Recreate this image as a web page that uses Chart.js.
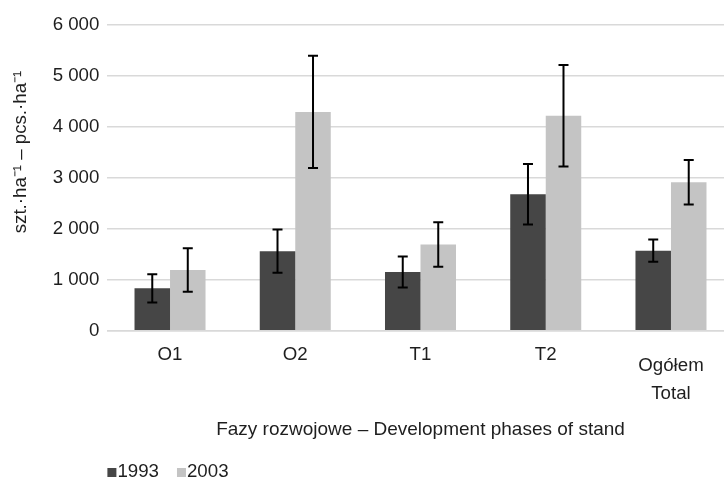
<!DOCTYPE html>
<html>
<head>
<meta charset="utf-8">
<script src="https://cdn.jsdelivr.net/npm/chart.js@4.4.1/dist/chart.umd.min.js"></script>
<style>
  html, body { margin: 0; padding: 0; background: #fff; }
  #wrap { width: 724px; height: 480px; overflow: hidden; position: relative; }
  canvas { display: block; }
</style>
</head>
<body>
<div id="wrap"><canvas id="chart" width="744" height="480"></canvas></div>
<script>
// Data
const categories = ['O1', 'O2', 'T1', 'T2', ['Ogółem', 'Total']];
const years = ['1993', '2003'];
const values1993 = [830, 1560, 1150, 2675, 1570];
const values2003 = [1190, 4290, 1690, 4215, 2910];
const err1993 = [275, 425, 305, 595, 220];
const err2003 = [425, 1100, 435, 995, 435];
const yTicks = [0, 1000, 2000, 3000, 4000, 5000, 6000];

const colors = ['#464646', '#c4c4c4'];
const textColor = '#1e1e1e';
const fontFamily = "'Liberation Sans', Arial, sans-serif";
const fontSize = 18.7;
const yTitle = 'szt.·ha⁻¹ – pcs.·ha⁻¹';
const xTitle = 'Fazy rozwojowe – Development phases of stand';

function fmt(v) {
  return String(v).replace(/\B(?=(\d{3})+(?!\d))/g, ' ');
}

// error bars drawn from the y scale
const errorBars = {
  id: 'errorBars',
  afterDatasetsDraw(chart) {
    const ctx = chart.ctx;
    const y = chart.scales.y;
    const errs = [err1993, err2003];
    ctx.save();
    ctx.strokeStyle = '#000';
    ctx.lineWidth = 2;
    chart.data.datasets.forEach((ds, d) => {
      chart.getDatasetMeta(d).data.forEach((bar, i) => {
        const v = ds.data[i];
        const e = errs[d][i];
        const top = y.getPixelForValue(v + e);
        const bot = y.getPixelForValue(v - e);
        ctx.beginPath();
        ctx.moveTo(bar.x, top);
        ctx.lineTo(bar.x, bot);
        ctx.moveTo(bar.x - 5, top);
        ctx.lineTo(bar.x + 5, top);
        ctx.moveTo(bar.x - 5, bot);
        ctx.lineTo(bar.x + 5, bot);
        ctx.stroke();
      });
    });
    ctx.restore();
  }
};

// y title (sits above the axis centre) and legend under the x title
const extras = {
  id: 'extras',
  afterDraw(chart) {
    const ctx = chart.ctx;
    const area = chart.chartArea;
    ctx.save();
    ctx.fillStyle = textColor;
    ctx.font = fontSize + 'px ' + fontFamily;
    ctx.textAlign = 'center';
    ctx.textBaseline = 'middle';
    ctx.translate(21, 152);
    ctx.rotate(-Math.PI / 2);
    ctx.fillText(yTitle, 0, 0);
    ctx.restore();

    ctx.save();
    ctx.font = fontSize + 'px ' + fontFamily;
    ctx.textBaseline = 'middle';
    ctx.textAlign = 'left';
    let x = area.left;
    chart.data.datasets.forEach((ds) => {
      ctx.fillStyle = ds.backgroundColor;
      ctx.fillRect(x, 468, 9, 9);
      ctx.fillStyle = textColor;
      ctx.fillText(ds.label, x + 10, 472);
      x += 10 + ctx.measureText(ds.label).width + 18;
    });
    ctx.restore();
  }
};

Chart.defaults.font.family = fontFamily;
Chart.defaults.font.size = fontSize;
Chart.defaults.color = textColor;

const chart = new Chart(document.getElementById('chart').getContext('2d'), {
  type: 'bar',
  data: {
    labels: categories,
    datasets: [
      { label: years[0], data: values1993, backgroundColor: colors[0] },
      { label: years[1], data: values2003, backgroundColor: colors[1] }
    ]
  },
  options: {
    responsive: false,
    animation: false,
    categoryPercentage: 0.567,
    barPercentage: 1.0,
    layout: { padding: { left: 0, right: 10.4, top: 24.7, bottom: 38.5 } },
    plugins: {
      legend: { display: false },
      tooltip: { enabled: false }
    },
    scales: {
      x: {
        grid: { display: false, drawTicks: false },
        border: { display: true, color: '#d9d9d9', width: 1.5 },
        ticks: {
          padding: 20.5,
          font: (c) => ({ size: fontSize, family: fontFamily, lineHeight: c.index === 4 ? '28.5px' : '7.6px' })
        },
        title: { display: true, text: xTitle, font: { size: 19 }, padding: { top: 0, bottom: 0 } },
        afterFit: (scale) => { scale.height = 110.8; }
      },
      y: {
        min: 0,
        max: 6000,
        afterBuildTicks: (scale) => { scale.ticks = yTicks.map(v => ({ value: v })); },
        grid: { color: '#d9d9d9', lineWidth: 1.5, drawTicks: false },
        border: { display: false },
        ticks: { padding: 8, callback: (v) => fmt(v) },
        afterFit: (scale) => { scale.width = 107.4; }
      }
    }
  },
  plugins: [errorBars, extras]
});
</script>
</body>
</html>
